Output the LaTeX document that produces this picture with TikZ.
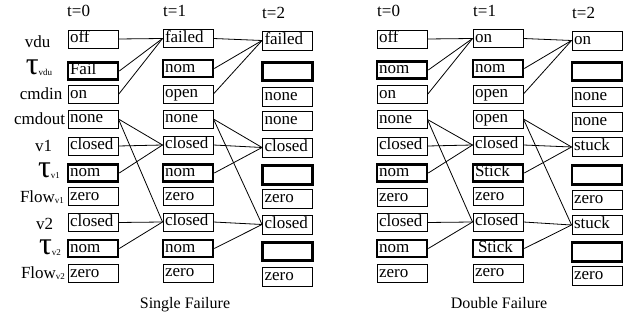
\documentclass[tikz,border=0pt]{standalone}
\usepackage{fontspec}
\setmainfont{Liberation Serif}
\begin{document}
\begin{tikzpicture}[x=1pt,y=-1pt,
  cell/.style={draw, line width=0.9, minimum width=50, minimum height=18, text width=46,
     inner xsep=2, inner ysep=0, align=left, text height=12, text depth=4,
     font=\fontsize{17}{20}\selectfont},
  cellc/.style={cell, minimum height=19},
  thickcell/.style={cell, line width=2.6, minimum width=49, minimum height=17},
  thickcellc/.style={thickcell, minimum height=18.5},
  conn/.style={line width=0.8},
  hdr/.style={anchor=base west, inner sep=0, font=\fontsize{17}{20}\selectfont},
  lbl/.style={anchor=base, inner sep=0, font=\fontsize{17}{20}\selectfont},
  captxt/.style={anchor=base, inner sep=0, font=\fontsize{16}{20}\selectfont}]
\useasboundingbox (0,0) rectangle (638,320);
\newcommand{\tauL}{{\fontsize{32}{32}\selectfont τ}}
\newcommand{\subL}[1]{\raisebox{-1pt}{\fontsize{9}{9}\selectfont #1}}
% headers
\node[hdr] (hL0) at (67,17) {t=0};
\node[hdr] (hL1) at (163,17) {t=1};
\node[hdr] (hL2) at (262,19) {t=2};
\node[hdr] (hR0) at (377,17) {t=0};
\node[hdr] (hR1) at (473,17) {t=1};
\node[hdr] (hR2) at (572,19) {t=2};
% row labels
\node[lbl] (l1) at (37.5,48) {vdu};
\node[lbl] (l2) at (39,75) {\tauL\subL{vdu}};
\node[lbl] (l3) at (41,100) {cmdin};
\node[lbl] (l4) at (39.5,125) {cmdout};
\node[lbl] (l5) at (43.5,152) {v1};
\node[lbl] (l6) at (49,178) {\tauL\subL{v1}};
\node[lbl] (l7) at (42,203) {Flow\subL{v1}};
\node[lbl] (l8) at (44.5,230) {v2};
\node[lbl] (l9) at (50,255) {\tauL\subL{v2}};
\node[lbl] (l10) at (43,279) {Flow\subL{v2}};
% left panel
\foreach \n/\y/\t/\s in {1/39/off/cell, 2/71/Fail/thickcell, 3/94.5/on/cell, 4/119/none/cell,
  5/146/closed/cell, 6/173/nom/thickcell, 7/196.5/zero/cell, 8/222.5/closed/cell,
  9/248.5/nom/thickcell, 10/273.5/zero/cell}
  \node[\s] (La\n) at (93,\y) {\t};
\foreach \n/\y/\t/\s in {1/38.5/failed/cell, 2/68.5/nom/thickcell, 3/94/open/cell, 4/119/none/cell,
  5/145/closed/cell, 6/173/nom/thickcell, 7/196.5/zero/cell, 8/222/closed/cell,
  9/248.5/nom/thickcell, 10/273/zero/cell}
  \node[\s] (Lb\n) at (188,\y) {\t};
\foreach \n/\y/\t/\s in {1/40.5/failed/cellc, 2/71.5//thickcellc, 3/96.5/none/cellc, 4/121/none/cellc,
  5/147.5/closed/cellc, 6/175//thickcellc, 7/198.5/zero/cellc, 8/224.5/closed/cellc,
  9/251.5//thickcellc, 10/276.5/zero/cellc}
  \node[\s] (Lc\n) at (287.5,\y) {\t};
% right panel
\foreach \n/\y/\t/\s in {1/39/off/cell, 2/70/nom/thickcell, 3/94.5/on/cell, 4/119.5/none/cell,
  5/146/closed/cell, 6/173/nom/thickcell, 7/197.5/zero/cell, 8/222.5/closed/cell,
  9/248.5/nom/thickcell, 10/273.5/zero/cell}
  \node[\s] (Ra\n) at (402,\y) {\t};
\foreach \n/\y/\t/\s in {1/38.5/on/cell, 2/68.5/nom/thickcell, 3/94/open/cell, 4/119/open/cell,
  5/145/closed/cell, 6/173/Stick/thickcell, 7/196.5/zero/cell, 8/222/closed/cell,
  9/248.5/\hspace{3pt}Stick/thickcell, 10/273/zero/cell}
  \node[\s] (Rb\n) at (498,\y) {\t};
\foreach \n/\y/\t/\s in {1/40.5/on/cellc, 2/71.5//thickcellc, 3/96.5/none/cellc, 4/122/none/cellc,
  5/147/stuck/cellc, 6/175//thickcellc, 7/199.5/zero/cellc, 8/225/stuck/cellc,
  9/252//thickcellc, 10/276/zero/cellc}
  \node[\s] (Rc\n) at (597,\y) {\t};
% connectors
\foreach \p in {L,R}{
  \foreach \u/\v in {a/b,b/c}{
    \draw[conn] (\p\u1.east) -- (\p\v1.west);
    \draw[conn] (\p\u2.east) -- (\p\v1.west);
    \draw[conn] (\p\u3.east) -- (\p\v1.west);
    \draw[conn] (\p\u4.east) -- (\p\v5.west);
    \draw[conn] (\p\u4.east) -- (\p\v8.west);
    \draw[conn] (\p\u5.east) -- (\p\v5.west);
    \draw[conn] (\p\u6.east) -- (\p\v5.west);
    \draw[conn] (\p\u8.east) -- (\p\v8.west);
    \draw[conn] (\p\u9.east) -- (\p\v8.west);
  }
}
% captions
\node[captxt] (capL) at (185,309) {Single Failure};
\node[captxt] (capR) at (499,309) {Double Failure};
\end{tikzpicture}
\end{document}
